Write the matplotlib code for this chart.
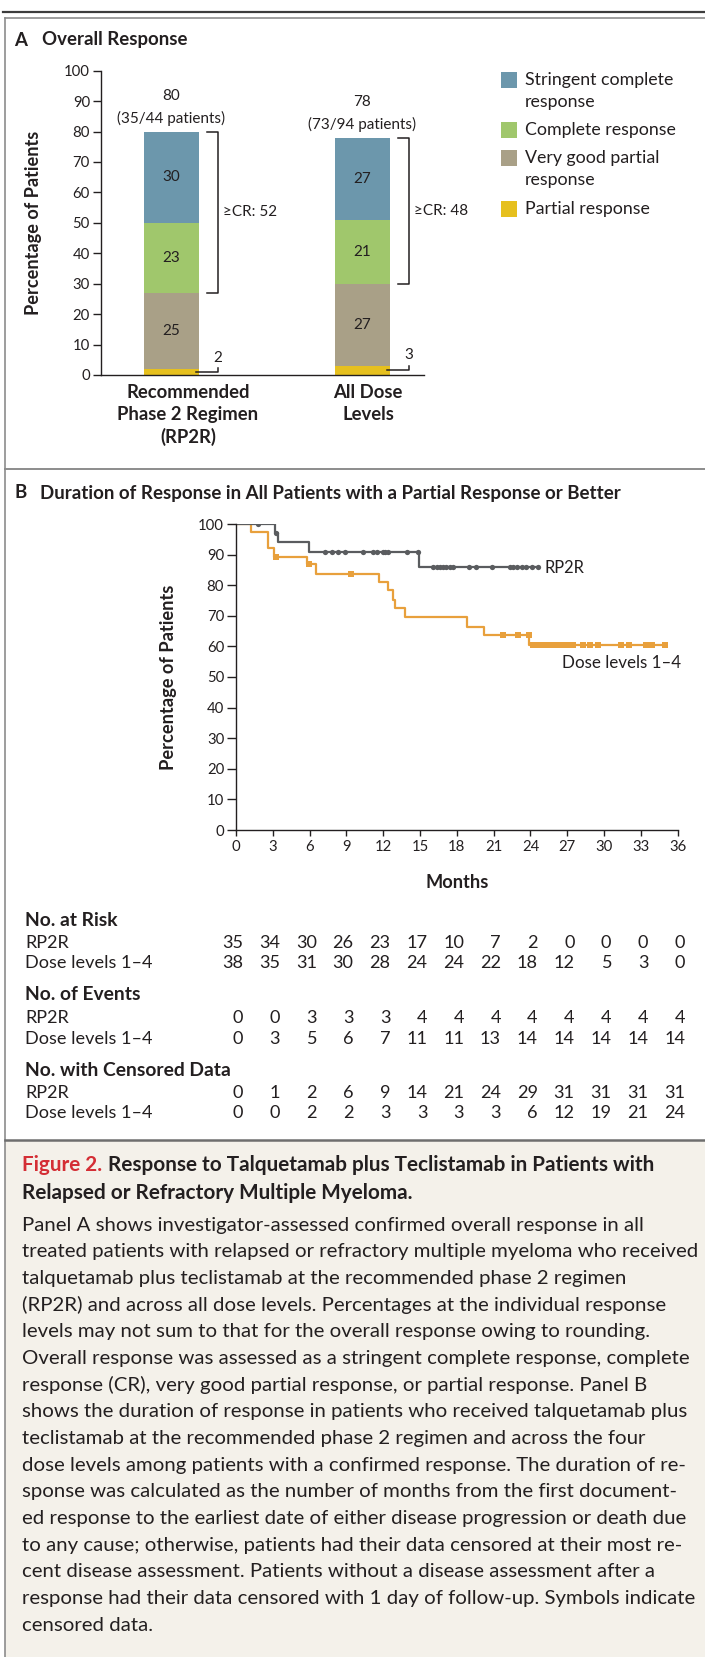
import numpy as np
import matplotlib
matplotlib.use('Agg')
import matplotlib.pyplot as plt
import matplotlib.transforms as mtransforms
from matplotlib.patches import Rectangle

plt.rcParams['font.family'] = ['Lato', 'DejaVu Sans']
INK = '#231f20'
GRAY = '#5a5c5f'
ORANGE = '#e8a03c'

# panel A data
group_labels = [['Recommended', 'Phase 2 Regimen', '(RP2R)'], ['All Dose', 'Levels']]
resp_names = ['Partial response', 'Very good partial\nresponse', 'Complete response', 'Stringent complete\nresponse']
resp_colors = ['#e6c01e', '#a9a087', '#a0c76c', '#6c97ac']
pr = [2, 3]
vgpr = [25, 27]
cr = [23, 21]
scr = [30, 27]
overall = [80, 78]
patients = ['35/44', '73/94']
ge_cr = [52, 48]

# panel B data
month_ticks = np.arange(0, 37, 3)
rp2r_t = [0, 3.2, 3.45, 5.95, 14.9]
rp2r_s = [100, 97.1, 94.1, 90.9, 85.9]
rp2r_end = 24.7
rp2r_cens = [1.8, 3.3, 7.3, 7.8, 8.35, 8.9, 10.35, 11.15, 11.5, 12.02, 12.15, 12.4, 13.95, 14.8,
             16.1, 16.4, 16.65, 16.9, 17.15, 17.45, 17.7, 19.0, 19.55, 20.9,
             22.3, 22.6, 22.9, 23.3, 23.65, 24.1, 24.6]
dose_t = [0, 1.2, 2.65, 3.1, 5.8, 6.55, 11.7, 12.43, 12.84, 12.97, 13.8, 18.8, 20.2, 23.9]
dose_s = [100, 97.4, 92.1, 89.3, 87.0, 83.6, 80.9, 78.3, 75.2, 72.5, 69.5, 66.5, 63.8, 60.5]
dose_end = 35.0
dose_cens = [3.3, 5.95, 9.4, 21.8, 23.0, 23.85, 24.2, 24.65, 25.1, 25.6, 26.0, 26.5,
             27.0, 27.15, 27.3, 27.45, 28.3, 28.85, 29.5, 31.4, 32.0, 33.4, 33.9, 35.0]

# table data
risk_rp2r = [35, 34, 30, 26, 23, 17, 10, 7, 2, 0, 0, 0, 0]
risk_dose = [38, 35, 31, 30, 28, 24, 24, 22, 18, 12, 5, 3, 0]
ev_rp2r = [0, 0, 3, 3, 3, 4, 4, 4, 4, 4, 4, 4, 4]
ev_dose = [0, 3, 5, 6, 7, 11, 11, 13, 14, 14, 14, 14, 14]
cen_rp2r = [0, 1, 2, 6, 9, 14, 21, 24, 29, 31, 31, 31, 31]
cen_dose = [0, 0, 2, 2, 3, 3, 3, 3, 6, 12, 19, 21, 24]

caption_head = ['Figure 2.', 'Response to Talquetamab plus Teclistamab in Patients with',
                'Relapsed or Refractory Multiple Myeloma.']
caption_body = [
    'Panel A shows investigator-assessed confirmed overall response in all',
    'treated patients with relapsed or refractory multiple myeloma who received',
    'talquetamab plus teclistamab at the recommended phase 2 regimen',
    '(RP2R) and across all dose levels. Percentages at the individual response',
    'levels may not sum to that for the overall response owing to rounding.',
    'Overall response was assessed as a stringent complete response, complete',
    'response (CR), very good partial response, or partial response. Panel B',
    'shows the duration of response in patients who received talquetamab plus',
    'teclistamab at the recommended phase 2 regimen and across the four',
    'dose levels among patients with a confirmed response. The duration of re-',
    'sponse was calculated as the number of months from the first document-',
    'ed response to the earliest date of either disease progression or death due',
    'to any cause; otherwise, patients had their data censored at their most re-',
    'cent disease assessment. Patients without a disease assessment after a',
    'response had their data censored with 1 day of follow-up. Symbols indicate',
    'censored data.',
]

W, H = 705, 1657
fig = plt.figure(figsize=(W / 100, H / 100), dpi=100)
page = fig.add_axes([0, 0, 1, 1])
page.set_autoscale_on(False)
page.set_xlim(0, W)
page.set_ylim(H, 0)
page.axis('off')
renderer = fig.canvas.get_renderer()


def px_axes(x0, y0, x1, y1):
    a = fig.add_axes([x0 / W, 1 - y1 / H, (x1 - x0) / W, (y1 - y0) / H])
    a.patch.set_visible(False)
    return a


def fit(t, target, vertical=False):
    bb = t.get_window_extent(renderer)
    cur = bb.height if vertical else bb.width
    t.set_fontsize(t.get_fontsize() * target / cur)
    return t.get_fontsize()


def txt(x, y, s, size=11, bold=False, ha='left', color=INK, **kw):
    return page.text(x, y, s, fontsize=size, fontweight='bold' if bold else 'normal',
                     ha=ha, va='center', color=color, **kw)


# frame
page.add_patch(Rectangle((5, 1140), W - 5, H - 1140, color='#f4f1ea', lw=0))
page.plot([3, W], [11.7, 11.7], color='#3c3c3c', lw=1.6)
page.plot([5, W], [17.5, 17.5], color='#8c8c8c', lw=1.2)
page.plot([5, 5], [17.5, H], color='#8c8c8c', lw=1.2)
page.plot([5, W], [469, 469], color='#8c8c8c', lw=1.4)
page.plot([5, W], [1139.5, 1139.5], color='#6e6e6e', lw=1.8)

# ---------------- panel A
t = txt(41.7, 40, 'Overall Response', bold=True)
sz = fit(t, 145)
txt(14, 40, 'A', sz, bold=True)

axa = px_axes(101, 70.7, 424, 375)
axa.set_xlim(-0.369, 1.322)
axa.set_ylim(0, 100)
x = np.arange(2)
bottoms = np.zeros(2)
for k, (vals, col) in enumerate(zip([pr, vgpr, cr, scr], resp_colors)):
    axa.bar(x, vals, 0.288, bottom=bottoms, color=col, lw=0)
    if k > 0:
        for i in range(2):
            axa.text(x[i], bottoms[i] + vals[i] / 2, str(vals[i]), ha='center', va='center',
                     fontsize=11, color=INK)
    bottoms += vals

for i in range(2):
    top = bottoms[i]
    axa.text(x[i], top + 11.6, str(overall[i]), ha='center', va='center', fontsize=11, color=INK)
    axa.text(x[i], top + 4.4, '(%s patients)' % patients[i], ha='center', va='center',
             fontsize=11, color=INK)
    y0 = pr[i] + vgpr[i]
    axa.plot([x[i] + 0.186, x[i] + 0.243, x[i] + 0.243, x[i] + 0.186], [top, top, y0, y0],
             color=INK, lw=1.1, clip_on=False)
    axa.text(x[i] + 0.2675, (y0 + top) / 2, '\u2265CR: %d' % ge_cr[i], ha='left', va='center',
             fontsize=11, color=INK)
    axa.plot([x[i] + 0.13, x[i] + 0.243, x[i] + 0.243], [pr[i] / 2, pr[i] / 2, pr[i] / 2 + 1.4],
             color=INK, lw=1.1, clip_on=False)
    axa.text(x[i] + 0.24, pr[i] + 3.6, str(pr[i]), ha='center', va='center', fontsize=11, color=INK)

for s in ['top', 'right']:
    axa.spines[s].set_visible(False)
for s in ['left', 'bottom']:
    axa.spines[s].set_color(INK)
    axa.spines[s].set_linewidth(1.0)
axa.set_xticks([])
axa.set_yticks(range(0, 101, 10))
axa.tick_params(axis='y', length=6, width=1, pad=2, labelsize=10.7, colors=INK)

t = txt(33.3, 223, 'Percentage of Patients', bold=True, ha='center', rotation=90)
fit(t, 183, vertical=True)

t = txt(188, 392, group_labels[0][0], bold=True, ha='center')
gsz = fit(t, 122.7)
for k, line in enumerate(group_labels[0][1:]):
    txt(188, 392 + (k + 1) * 22.5, line, gsz, bold=True, ha='center')
for k, line in enumerate(group_labels[1]):
    txt(368, 392 + k * 22.5, line, gsz, bold=True, ha='center')

# legend
leg_y = [80, 130, 158, 209]
t = txt(525, 130, 'Complete response')
lsz = fit(t, 151)
t.remove()
for name, col, yy in zip(resp_names[::-1], resp_colors[::-1], leg_y):
    page.add_patch(Rectangle((501, yy - 8), 16, 16, color=col, lw=0))
    for k, line in enumerate(name.split('\n')):
        txt(525, yy + k * 22.5, line, lsz)

# ---------------- panel B
t = txt(40, 493, 'Duration of Response in All Patients with a Partial Response or Better', bold=True)
bsz = fit(t, 580)
txt(14, 493, 'B', bsz, bold=True)

axb = px_axes(235.9, 524, 677.7, 830)
axb.step(np.r_[dose_t, dose_end], np.r_[dose_s, dose_s[-1]], where='post', color=ORANGE, lw=1.6)
lv = np.array(dose_s)[np.searchsorted(dose_t, dose_cens, side='right') - 1]
axb.plot(dose_cens, lv, ls='none', marker='s', ms=3.8, color=ORANGE, mew=0)
axb.step(np.r_[rp2r_t, rp2r_end], np.r_[rp2r_s, rp2r_s[-1]], where='post', color=GRAY, lw=1.6)
lv = np.array(rp2r_s)[np.searchsorted(rp2r_t, rp2r_cens, side='right') - 1]
axb.plot(rp2r_cens, lv, ls='none', marker='o', ms=3.8, color=GRAY, mew=0)
axb.set_xlim(0, 36)
axb.set_ylim(0, 100)
for s in ['top', 'right']:
    axb.spines[s].set_visible(False)
for s in ['left', 'bottom']:
    axb.spines[s].set_color(INK)
    axb.spines[s].set_linewidth(1.0)
axb.set_xticks(month_ticks)
axb.set_yticks(range(0, 101, 10))
axb.tick_params(axis='y', length=6.5, width=1, pad=2, labelsize=10.7, colors=INK)
axb.tick_params(axis='x', length=4.5, width=1, pad=3, labelsize=10.7, colors=INK)

t = txt(545, 568, 'RP2R')
fit(t, 40)
t = txt(561.7, 663, 'Dose levels 1\u20134')
fit(t, 119)
t = txt(168.3, 677.5, 'Percentage of Patients', bold=True, ha='center', rotation=90)
fit(t, 185, vertical=True)
t = txt(457, 883, 'Months', bold=True, ha='center')
fit(t, 63)

# risk table
blend = mtransforms.blended_transform_factory(axb.transData, page.transData)
t = txt(25, 1070, 'No. with Censored Data', bold=True)
hsz = fit(t, 205.7)
t = txt(25, 963, 'Dose levels 1\u20134')
rsz = fit(t, 127)
txt(25, 920, 'No. at Risk', hsz, bold=True)
txt(25, 995, 'No. of Events', hsz, bold=True)
rows = [(943, 'RP2R', risk_rp2r), (963, None, risk_dose),
        (1018, 'RP2R', ev_rp2r), (1039, 'Dose levels 1\u20134', ev_dose),
        (1093, 'RP2R', cen_rp2r), (1113, 'Dose levels 1\u20134', cen_dose)]
for yy, lab, vals in rows:
    if lab:
        txt(25, yy, lab, rsz)
    for m, v in zip(month_ticks, vals):
        page.text(m + 0.6, yy, str(v), transform=blend, ha='right', va='center',
                  fontsize=rsz, color=INK)

# caption
t = txt(22.5, 1165, caption_head[0] + ' ' + caption_head[1], bold=True)
csz = fit(t, 633)
wfull = t.get_window_extent(renderer).width
t.remove()
t2 = txt(22.5, 1165, caption_head[1], csz, bold=True)
w2 = t2.get_window_extent(renderer).width
t2.set_x(22.5 + wfull - w2)
txt(22.5, 1165, caption_head[0], csz, bold=True, color='#d42e35')
txt(22.5, 1193, caption_head[2], csz, bold=True)

body = [txt(22.5, 1225 + k * 26.67, line, 13) for k, line in enumerate(caption_body)]
widest = max(b.get_window_extent(renderer).width for b in body)
for b in body:
    b.set_fontsize(13 * 676 / widest)

fig.savefig('out.png', dpi=100)
